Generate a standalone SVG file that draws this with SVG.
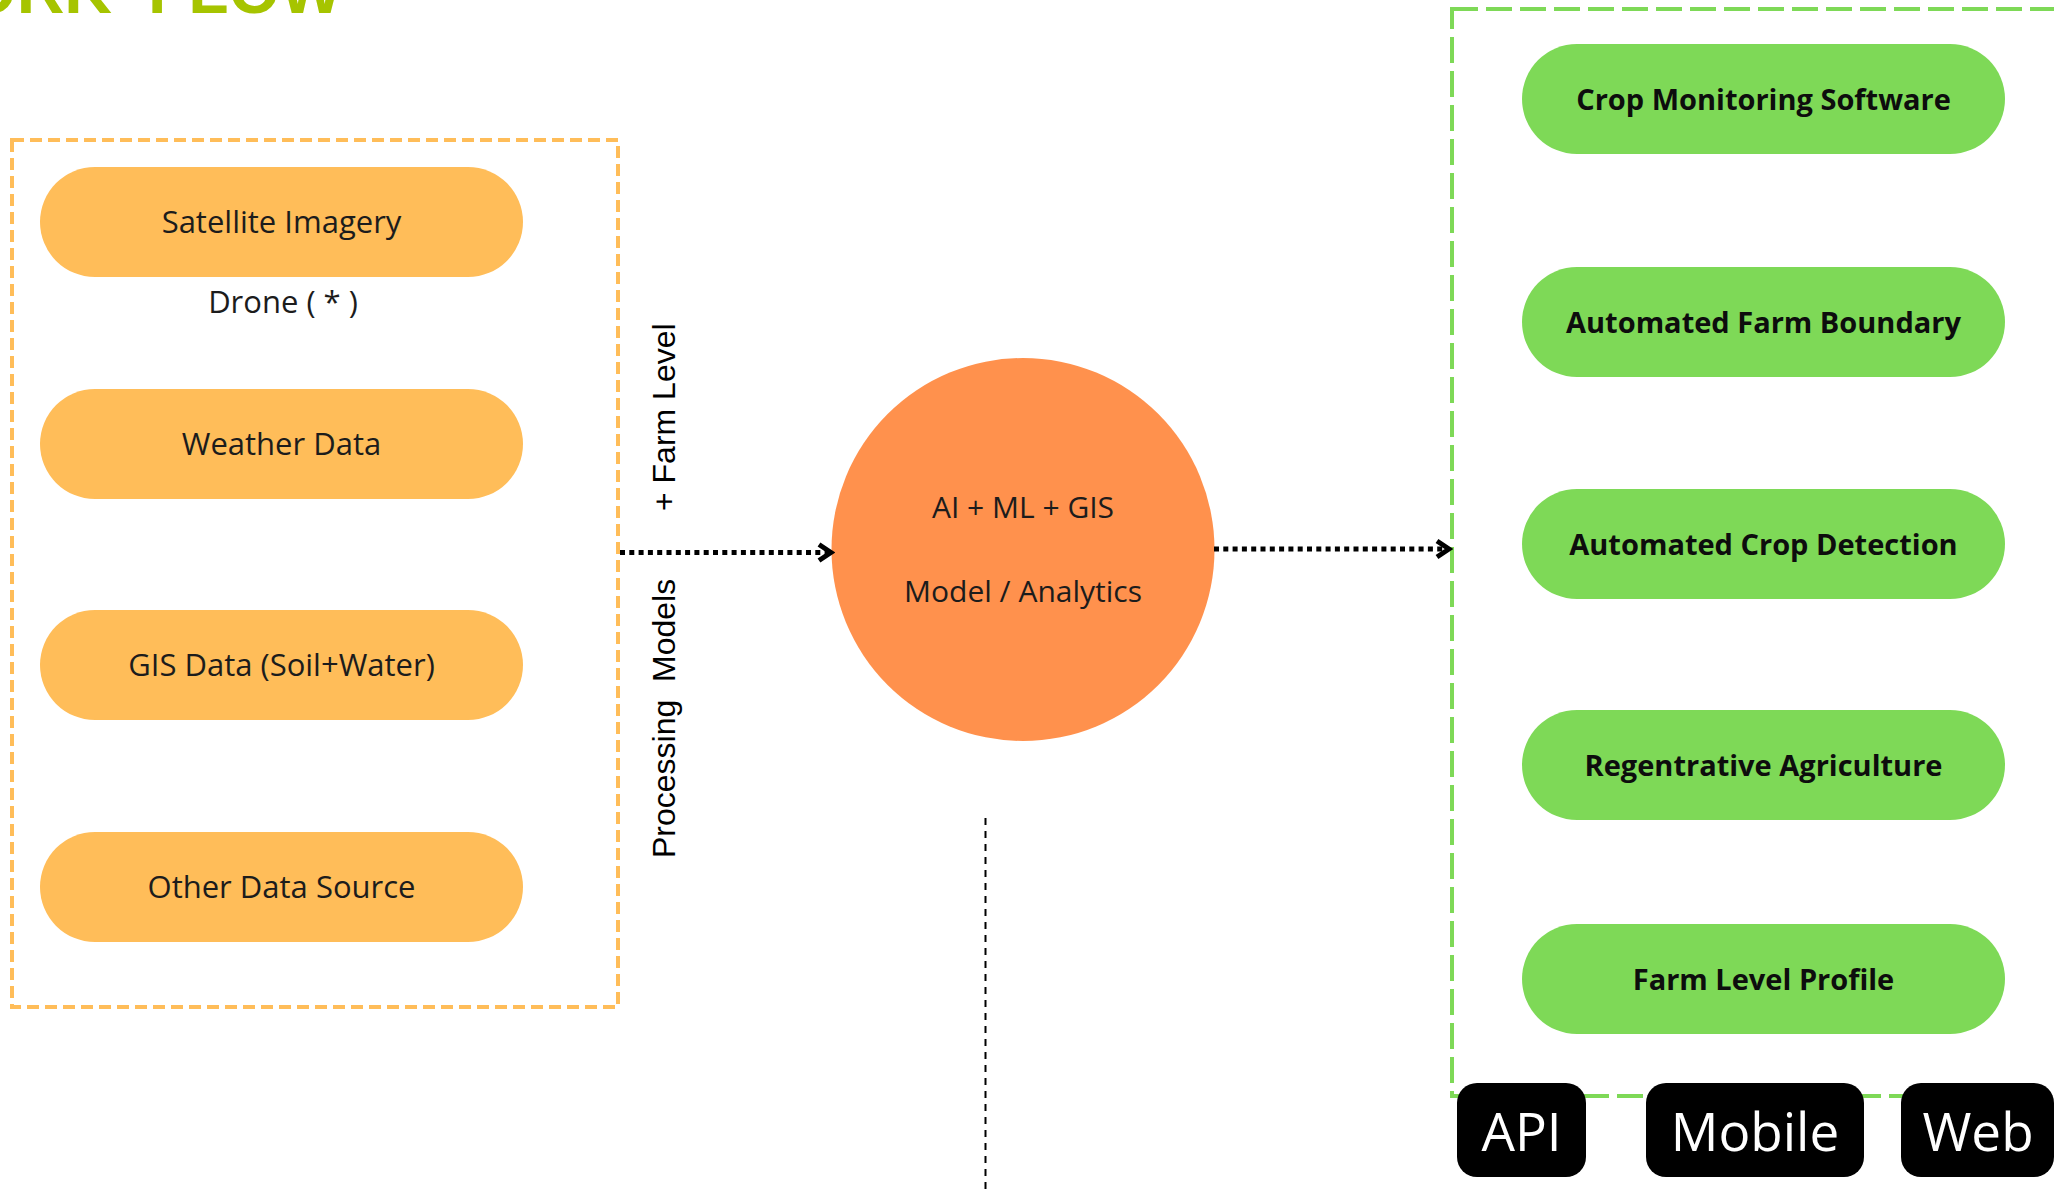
<svg xmlns="http://www.w3.org/2000/svg" width="2054" height="1190" viewBox="0 0 2054 1190">
  <style>
    .title { font-family: "Liberation Sans", Arial, sans-serif; font-weight: 700; font-size: 66px; fill: #a6c400; }
    .src-pill { fill: #ffbd59; }
    .out-pill { fill: #7ed957; }
    .src-text { font-family: "Open Sans", "Noto Sans", sans-serif; font-size: 31px; fill: #1c1c1c; text-anchor: middle; }
    .out-text { font-family: "Open Sans", "Noto Sans", sans-serif; font-size: 29px; font-weight: 700; fill: #0d0d0d; text-anchor: middle; }
    .core-text { font-family: "Open Sans", "Noto Sans", sans-serif; font-size: 30px; fill: #1c1c1c; text-anchor: middle; }
    .side-label { font-family: "Liberation Sans", Arial, sans-serif; font-size: 32px; fill: #000000; white-space: pre; }
    .channel { fill: #000000; }
    .channel-text { font-family: "Open Sans", "Noto Sans", sans-serif; font-size: 53px; fill: #ffffff; text-anchor: middle; }
    .flow { stroke: #000000; stroke-width: 5; stroke-dasharray: 5 4.3; fill: none; }
    .guide { stroke: #000000; stroke-width: 2; stroke-dasharray: 7 6; fill: none; }
  </style>
  <defs>
    <marker id="chevron" markerUnits="userSpaceOnUse" viewBox="-16 -12 20 24" refX="0" refY="0" markerWidth="20" markerHeight="24" orient="auto">
      <path d="M-12 -8 L0 0 L-12 8" fill="none" stroke="#000000" stroke-width="5" stroke-dasharray="none" stroke-linejoin="miter"/>
    </marker>
  </defs>

  <rect width="2054" height="1190" fill="#ffffff"/>

  <!-- heading, mostly above the top edge -->
  <text class="title" x="-97" y="13">WORK<tspan x="148">FLOW</tspan></text>

  <!-- input sources -->
  <g id="sources">
    <rect x="12" y="140" width="606" height="867" fill="none" stroke="#ffbd59" stroke-width="4" stroke-dasharray="12 6"/>
    <g id="satellite-imagery">
      <rect class="src-pill" x="40" y="167" width="483" height="110" rx="55"/>
      <text class="src-text" x="281.5" y="233">Satellite Imagery</text>
    </g>
    <g id="drone-note">
      <text class="src-text" x="283" y="313" font-size="29">Drone ( * )</text>
    </g>
    <g id="weather-data">
      <rect class="src-pill" x="40" y="389" width="483" height="110" rx="55"/>
      <text class="src-text" x="281.5" y="455">Weather Data</text>
    </g>
    <g id="gis-data">
      <rect class="src-pill" x="40" y="610" width="483" height="110" rx="55"/>
      <text class="src-text" x="281.5" y="676">GIS Data (Soil+Water)</text>
    </g>
    <g id="other-data">
      <rect class="src-pill" x="40" y="832" width="483" height="110" rx="55"/>
      <text class="src-text" x="281.5" y="898">Other Data Source</text>
    </g>
  </g>

  <!-- vertical labels beside the input flow -->
  <g id="flow-labels">
    <text class="side-label" transform="translate(675 511) rotate(-90)">+ Farm Level</text>
    <text class="side-label" transform="translate(675 858) rotate(-90)">Processing  Models</text>
  </g>

  <!-- analytics core -->
  <g id="analytics-core">
    <circle cx="1023" cy="549.5" r="191.5" fill="#ff914d"/>
    <text class="core-text" x="1023" y="518">AI + ML + GIS</text>
    <text class="core-text" x="1023" y="602" font-size="31">Model / Analytics</text>
  </g>

  <!-- outputs -->
  <g id="outputs">
    <rect x="1452" y="9" width="640" height="1087" fill="none" stroke="#7ed957" stroke-width="4" stroke-dasharray="26 8"/>
    <g id="crop-monitoring">
      <rect class="out-pill" x="1522" y="44" width="483" height="110" rx="55"/>
      <text class="out-text" x="1763.5" y="110">Crop Monitoring Software</text>
    </g>
    <g id="farm-boundary">
      <rect class="out-pill" x="1522" y="267" width="483" height="110" rx="55"/>
      <text class="out-text" x="1763.5" y="333">Automated Farm Boundary</text>
    </g>
    <g id="crop-detection">
      <rect class="out-pill" x="1522" y="489" width="483" height="110" rx="55"/>
      <text class="out-text" x="1763.5" y="555">Automated Crop Detection</text>
    </g>
    <g id="regenerative-agriculture">
      <rect class="out-pill" x="1522" y="710" width="483" height="110" rx="55"/>
      <text class="out-text" x="1763.5" y="776">Regentrative Agriculture</text>
    </g>
    <g id="farm-profile">
      <rect class="out-pill" x="1522" y="924" width="483" height="110" rx="55"/>
      <text class="out-text" x="1763.5" y="990">Farm Level Profile</text>
    </g>
  </g>

  <!-- delivery channels -->
  <g id="channel-api">
    <rect class="channel" x="1457" y="1083" width="129" height="94" rx="20"/>
    <text class="channel-text" x="1521.5" y="1151">API</text>
  </g>
  <g id="channel-mobile">
    <rect class="channel" x="1646" y="1083" width="218" height="94" rx="20"/>
    <text class="channel-text" x="1755" y="1151">Mobile</text>
  </g>
  <g id="channel-web">
    <rect class="channel" x="1901" y="1083" width="153" height="94" rx="20"/>
    <text class="channel-text" x="1978" y="1151">Web</text>
  </g>

  <!-- connectors -->
  <g id="connectors">
    <path class="flow" d="M620 552.5 H831" marker-end="url(#chevron)"/>
    <path class="flow" d="M1214 549 H1449" marker-end="url(#chevron)"/>
    <path class="guide" d="M985.5 818 V1190"/>
  </g>
</svg>
